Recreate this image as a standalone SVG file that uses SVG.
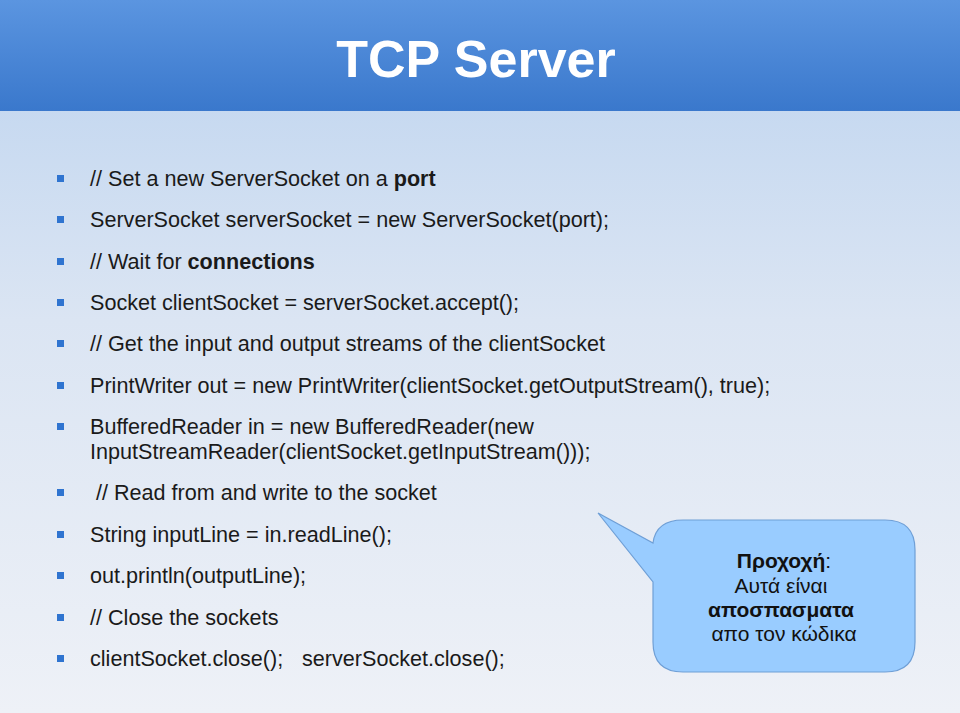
<svg xmlns="http://www.w3.org/2000/svg" width="960" height="713" viewBox="0 0 960 713">
<defs>
<linearGradient id="hd" x1="0" y1="0" x2="0" y2="1"><stop offset="0" stop-color="#5b95e0"/><stop offset="1" stop-color="#3a78cc"/></linearGradient>
<linearGradient id="bd" x1="0" y1="0" x2="0" y2="1"><stop offset="0" stop-color="#bcd3ef"/><stop offset="0.45" stop-color="#dbe5f3"/><stop offset="1" stop-color="#eef1f7"/></linearGradient>
<style>
.t{font-family:"Liberation Sans",Arial,sans-serif;font-size:21.6px;fill:#1a1a1a}
.b{font-weight:bold}
.c{font-family:"Liberation Sans",Arial,sans-serif;font-size:21px;fill:#111;text-anchor:middle}
.bl{fill:#2f74d0}
</style>
</defs>
<rect width="960" height="713" fill="url(#bd)"/>
<rect width="960" height="111" fill="url(#hd)"/>
<text x="476" y="77" text-anchor="middle" font-family="Liberation Sans,Arial,sans-serif" font-weight="bold" font-size="52" fill="#fff">TCP Server</text>
<g id="bullets">
<rect class="bl" x="57" y="175" width="7" height="7"/>
<rect class="bl" x="57" y="216" width="7" height="7"/>
<rect class="bl" x="57" y="258" width="7" height="7"/>
<rect class="bl" x="57" y="299" width="7" height="7"/>
<rect class="bl" x="57" y="340" width="7" height="7"/>
<rect class="bl" x="57" y="382" width="7" height="7"/>
<rect class="bl" x="57" y="423" width="7" height="7"/>
<rect class="bl" x="57" y="489" width="7" height="7"/>
<rect class="bl" x="57" y="531" width="7" height="7"/>
<rect class="bl" x="57" y="572" width="7" height="7"/>
<rect class="bl" x="57" y="614" width="7" height="7"/>
<rect class="bl" x="57" y="655" width="7" height="7"/>
</g>
<g id="code">
<text class="t" x="90" y="186">// Set a new ServerSocket on a <tspan class="b">port</tspan></text>
<text class="t" x="90" y="227">ServerSocket serverSocket = new ServerSocket(port);</text>
<text class="t" x="90" y="269">// Wait for <tspan class="b">connections</tspan></text>
<text class="t" x="90" y="310">Socket clientSocket = serverSocket.accept();</text>
<text class="t" x="90" y="351">// Get the input and output streams of the clientSocket</text>
<text class="t" x="90" y="393">PrintWriter out = new PrintWriter(clientSocket.getOutputStream(), true);</text>
<text class="t" x="90" y="434">BufferedReader in = new BufferedReader(new</text>
<text class="t" x="90" y="459">InputStreamReader(clientSocket.getInputStream()));</text>
<text class="t" x="96" y="500">// Read from and write to the socket</text>
<text class="t" x="90" y="542">String inputLine = in.readLine();</text>
<text class="t" x="90" y="583">out.println(outputLine);</text>
<text class="t" x="90" y="625">// Close the sockets</text>
<text class="t" x="90" y="666">clientSocket.close();</text>
<text class="t" x="302" y="666">serverSocket.close();</text>
</g>
<g id="callout">
<path d="M683,520 H885 Q915,520 915,550 V642 Q915,672 885,672 H683 Q653,672 653,642 V582 L598,513 L653,543 Q656,520 683,520 Z" fill="#99ccff" stroke="#6f9fd6" stroke-width="1.2"/>
<text class="c" x="784" y="568"><tspan font-weight="bold">Προχοχή</tspan>:</text>
<text class="c" x="781" y="593">Αυτά είναι</text>
<text class="c" x="781" y="617" font-weight="bold">αποσπασματα</text>
<text class="c" x="784" y="641">απο τον κώδικα</text>
</g>
</svg>
